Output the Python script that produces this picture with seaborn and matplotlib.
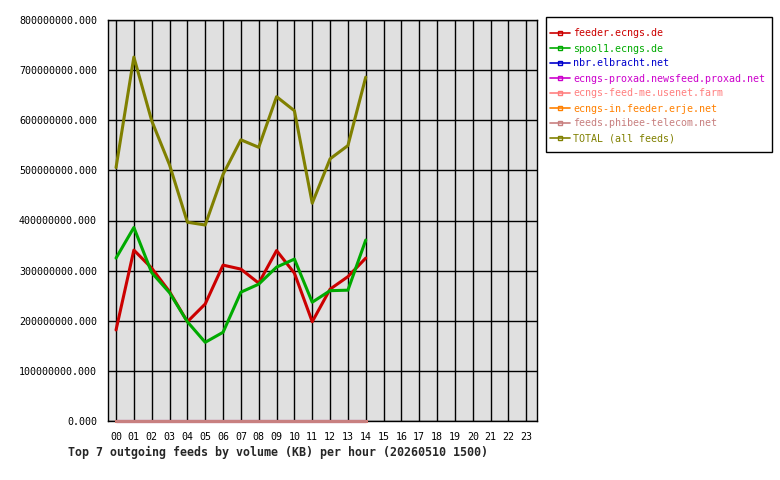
import numpy as np
import pandas as pd
import seaborn as sns
import matplotlib.pyplot as plt
from matplotlib.lines import Line2D
from matplotlib.patches import Rectangle
from matplotlib.ticker import FuncFormatter

hours = list(range(15))
hour_labels = ['%02d' % h for h in range(24)]

feeds = ['feeder.ecngs.de', 'spool1.ecngs.de', 'nbr.elbracht.net',
         'ecngs-proxad.newsfeed.proxad.net', 'ecngs-feed-me.usenet.farm',
         'ecngs-in.feeder.erje.net', 'feeds.phibee-telecom.net', 'TOTAL (all feeds)']
colors = ['#cc0000', '#00aa00', '#0000cc', '#cc00cc', '#ff8080',
          '#ff8000', '#c88080', '#808000']

# values in KB
feeder = [181.6e6, 341e6, 305e6, 258e6, 198e6, 233.5e6, 311e6, 303e6,
          275e6, 340e6, 295e6, 198e6, 263e6, 288e6, 325e6]
spool1 = [325e6, 386e6, 296e6, 256e6, 198e6, 157e6, 177e6, 257e6,
          273e6, 307e6, 323e6, 237e6, 260e6, 261e6, 361e6]
nbr = [0] * 15
proxad = [0] * 15
feedme = [0] * 15
erje = [0] * 15
phibee = [0] * 15
total = [505.6e6, 726e6, 599e6, 511e6, 396.6e6, 391e6, 492e6, 561e6,
         546e6, 647e6, 619e6, 434.5e6, 523e6, 549.5e6, 686e6]

series = [feeder, spool1, nbr, proxad, feedme, erje, phibee, total]
frames = []
for name, vals in zip(feeds, series):
    frames.append(pd.DataFrame({'hour': hours, 'kb': vals, 'feed': name}))
df = pd.concat(frames, ignore_index=True)

sns.set_style('white')
plt.rcParams['font.family'] = ['DejaVu Sans Mono']

fig = plt.figure(figsize=(7.8, 4.8), dpi=100)
ax = fig.add_axes([108 / 780, 1 - 421 / 480, (537 - 108) / 780, (421 - 20) / 480])
ax.set_facecolor('#e0e0e0')

sns.lineplot(data=df, x='hour', y='kb', hue='feed', hue_order=feeds,
             palette=colors, linewidth=2.2, legend=False, ax=ax, zorder=3)
for ln in ax.lines:
    ln.set_clip_on(False)

ax.set_xlim(-0.45, 23.6)
ax.set_ylim(0, 800e6)
ax.set_xticks(range(24))
ax.set_xticklabels(hour_labels)
ax.set_yticks(np.arange(0, 800e6 + 1, 100e6))
ax.yaxis.set_major_formatter(FuncFormatter(lambda v, p: '%.3f' % v))
ax.grid(True, color='black', linewidth=1.0, zorder=1)
ax.set_axisbelow(True)
for s in ax.spines.values():
    s.set_color('black')
    s.set_linewidth(1.0)
ax.tick_params(axis='both', direction='out', length=5, width=1, color='black',
               labelsize=7.2, labelcolor='black', pad=3)
ax.set_xlabel('')
ax.set_ylabel('')

fig.text(68 / 780, 1 - 452 / 480, 'Top 7 outgoing feeds by volume (KB) per hour (20260510 1500)',
         fontsize=8.4, fontweight='bold', ha='left', va='center')

# legend box drawn separately so the padding can differ per side
fig.patches.append(Rectangle((546 / 780, 1 - 152 / 480), 226 / 780, 135 / 480,
                             transform=fig.transFigure, facecolor='white',
                             edgecolor='black', linewidth=1.0))
handles = [Line2D([0], [0], color=c, linewidth=1.2, marker='s', markersize=2.5,
                  markerfacecolor='none', markeredgecolor=c) for c in colors]
leg = fig.legend(handles, feeds, loc='upper left', bbox_to_anchor=(550 / 780, 1 - 28.5 / 480),
                 frameon=False, fontsize=7.2, handlelength=2.0, handletextpad=0.3,
                 labelspacing=0.5, borderpad=0, borderaxespad=0)
for t, c in zip(leg.get_texts(), colors):
    t.set_color(c)

fig.savefig('out.png', dpi=100)
